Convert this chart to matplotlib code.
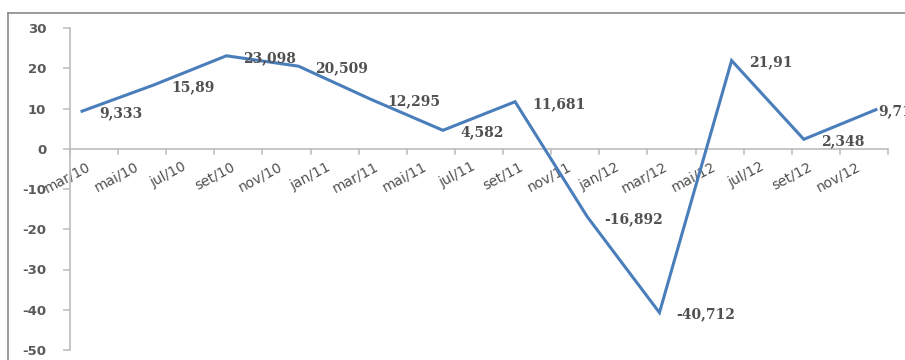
import matplotlib
matplotlib.use("Agg")
import matplotlib.pyplot as plt
from matplotlib.lines import Line2D

# Quarterly readings
periods = ["mar/10", "jun/10", "set/10", "dez/10", "mar/11", "jun/11",
           "set/11", "dez/11", "mar/12", "jun/12", "set/12", "dez/12"]
values = [9.333, 15.89, 23.098, 20.509, 12.295, 4.582,
          11.681, -16.892, -40.712, 21.91, 2.348, 9.71]
value_labels = ["9,333", "15,89", "23,098", "20,509", "12,295", "4,582",
                "11,681", "-16,892", "-40,712", "21,91", "2,348", "9,71"]

# Bimonthly axis labels
tick_labels = ["mar/10", "mai/10", "jul/10", "set/10", "nov/10", "jan/11",
               "mar/11", "mai/11", "jul/11", "set/11", "nov/11", "jan/12",
               "mar/12", "mai/12", "jul/12", "set/12", "nov/12"]
y_ticks = [30, 20, 10, 0, -10, -20, -30, -40, -50]

month_abbr = ["jan", "fev", "mar", "abr", "mai", "jun",
              "jul", "ago", "set", "out", "nov", "dez"]


def month_index(label, start="mar/10"):
    def absolute(lbl):
        m, y = lbl.split("/")
        return int(y) * 12 + month_abbr.index(m)
    return absolute(label) - absolute(start)


x_vals = [month_index(p) for p in periods]
x_ticks = [month_index(t) for t in tick_labels]
n_months = month_index("dez/12") + 1

fig = plt.figure(figsize=(9.05, 3.6), dpi=100)
fig.patch.set_facecolor("white")
ax = fig.add_axes([70 / 905, 10 / 360, 818 / 905, 322 / 360])

axis_col = "#bcbcbc"
text_col = "#505050"

ax.plot(x_vals, values, color="#4a7ebb", lw=2.2, solid_joinstyle="miter",
        zorder=3, clip_on=False)

ax.set_xlim(-0.5, n_months - 0.5)
ax.set_ylim(-50, 30)

# spines: y axis at left, x axis crossing at zero
for s in ["top", "right", "bottom"]:
    ax.spines[s].set_visible(False)
ax.spines["left"].set_color(axis_col)
ax.spines["left"].set_linewidth(1.2)
ax.axhline(0, color=axis_col, lw=1.2, zorder=1)

# x tick marks at bimonthly boundaries below the zero line
for b in range(0, n_months + 1, 2):
    ax.plot([b - 0.5, b - 0.5], [0, -1.2], color=axis_col, lw=1.1,
            clip_on=False, zorder=1)

ax.set_xticks([])
ax.set_yticks(y_ticks)
ax.set_yticklabels([str(v) for v in y_ticks], fontsize=9.5, fontweight="bold",
                   color="#5a5a5a")
ax.tick_params(axis="y", length=5, width=1.1, color=axis_col, pad=12)

for xt, lbl in zip(x_ticks, tick_labels):
    ax.annotate(lbl, xy=(xt, 0), xytext=(4, -11), textcoords="offset pixels",
                ha="right", va="top", rotation=28, rotation_mode="anchor",
                fontsize=10, color=text_col, zorder=2)

for i, (xv, yv, txt) in enumerate(zip(x_vals, values, value_labels)):
    dx = 2 if i == len(values) - 1 else 17
    ax.annotate(txt, xy=(xv, yv), xytext=(dx, -2), textcoords="offset pixels",
                ha="left", va="center", fontsize=10, fontweight="bold",
                family="DejaVu Serif", color=text_col, zorder=4,
                annotation_clip=False)

# outer chart border (top and left edges)
fig.add_artist(Line2D([7.5 / 905, 1.0], [1 - 12.5 / 360, 1 - 12.5 / 360],
                      transform=fig.transFigure, color="#8a8a8a", lw=1.2))
fig.add_artist(Line2D([7.5 / 905, 7.5 / 905], [0, 1 - 12.5 / 360],
                      transform=fig.transFigure, color="#8a8a8a", lw=1.2))

fig.savefig("out.png", dpi=100, facecolor="white")
